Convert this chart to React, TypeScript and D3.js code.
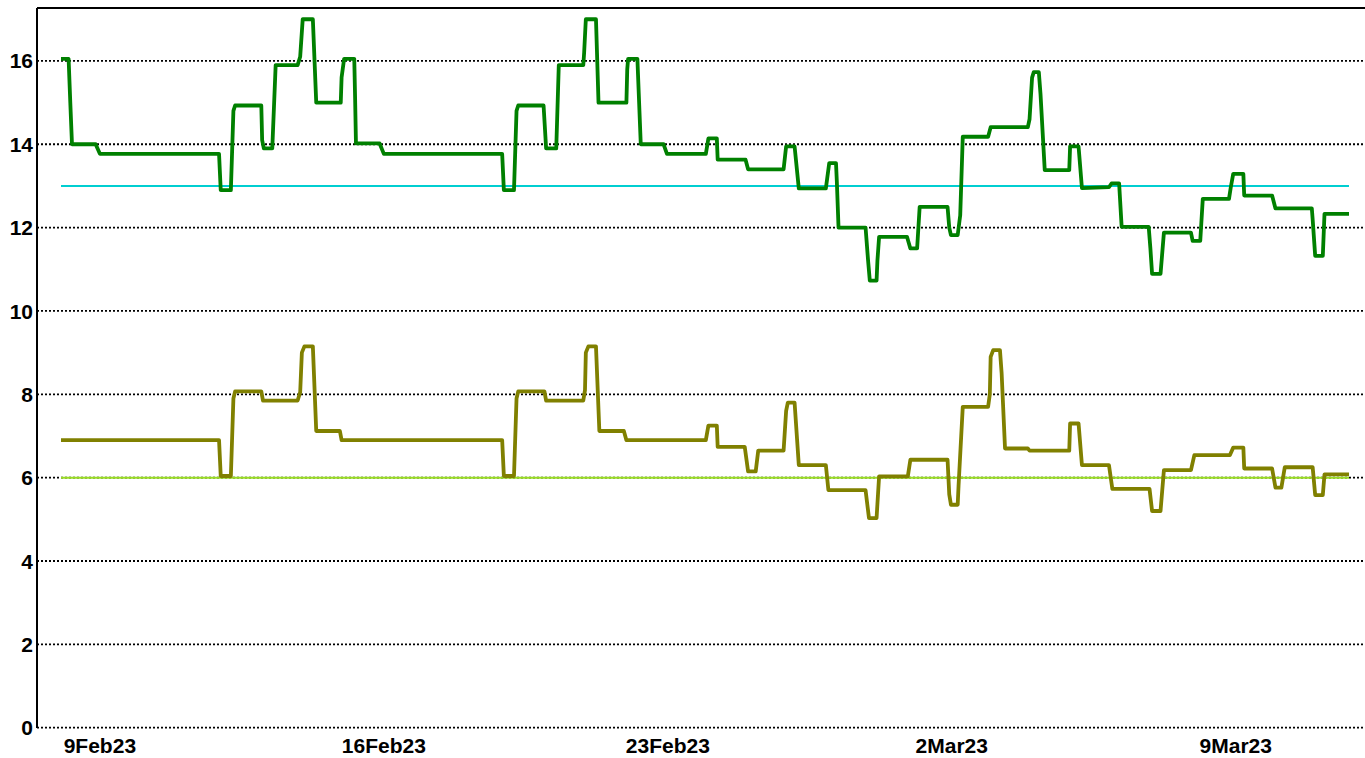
import React from "react";
import * as d3 from "d3";

const width = 1365;
const height = 758;

// readings taken off the chart, hourly-ish step data
const upperSeries: [string, number][] = [
  ["2023-02-08 01:00", 16.05], ["2023-02-08 05:30", 16.05], ["2023-02-08 06:30", 15.0], ["2023-02-08 07:30", 14.0],
  ["2023-02-08 21:30", 14.0], ["2023-02-09 00:00", 13.77], ["2023-02-11 22:30", 13.77], ["2023-02-11 23:30", 12.9],
  ["2023-02-12 05:30", 12.9], ["2023-02-12 07:00", 14.8], ["2023-02-12 08:00", 14.93], ["2023-02-12 23:30", 14.93],
  ["2023-02-13 00:00", 14.1], ["2023-02-13 01:00", 13.9], ["2023-02-13 06:00", 13.9], ["2023-02-13 08:00", 15.9],
  ["2023-02-13 21:00", 15.9], ["2023-02-13 22:30", 16.1], ["2023-02-14 00:00", 17.0], ["2023-02-14 06:00", 17.0],
  ["2023-02-14 08:00", 15.0], ["2023-02-14 22:30", 15.0], ["2023-02-14 23:00", 15.6], ["2023-02-15 00:30", 16.05],
  ["2023-02-15 06:30", 16.05], ["2023-02-15 07:00", 15.1], ["2023-02-15 07:30", 14.02], ["2023-02-15 21:30", 14.02],
  ["2023-02-16 00:00", 13.77], ["2023-02-18 22:00", 13.77], ["2023-02-18 23:00", 12.9], ["2023-02-19 05:00", 12.9],
  ["2023-02-19 06:30", 14.8], ["2023-02-19 07:30", 14.93], ["2023-02-19 22:30", 14.93], ["2023-02-20 00:00", 13.9],
  ["2023-02-20 06:00", 13.9], ["2023-02-20 07:30", 15.9], ["2023-02-20 22:00", 15.9], ["2023-02-20 22:30", 16.2],
  ["2023-02-20 23:30", 17.0], ["2023-02-21 05:30", 17.0], ["2023-02-21 07:00", 15.0], ["2023-02-21 23:30", 15.0],
  ["2023-02-22 00:00", 15.8], ["2023-02-22 00:30", 16.05], ["2023-02-22 06:00", 16.05], ["2023-02-22 08:00", 14.0],
  ["2023-02-22 21:30", 14.0], ["2023-02-22 23:30", 13.77], ["2023-02-23 22:30", 13.77], ["2023-02-24 00:00", 14.14],
  ["2023-02-24 05:00", 14.14], ["2023-02-24 05:30", 13.63], ["2023-02-24 22:00", 13.63], ["2023-02-24 23:30", 13.4],
  ["2023-02-25 20:30", 13.4], ["2023-02-25 22:00", 13.95], ["2023-02-26 03:00", 13.95], ["2023-02-26 05:30", 12.94],
  ["2023-02-26 21:30", 12.94], ["2023-02-26 23:30", 13.55], ["2023-02-27 03:30", 13.55], ["2023-02-27 04:00", 13.1],
  ["2023-02-27 05:00", 12.0], ["2023-02-27 21:00", 12.0], ["2023-02-27 22:30", 11.2], ["2023-02-27 23:30", 10.73],
  ["2023-02-28 03:30", 10.73], ["2023-02-28 04:00", 11.2], ["2023-02-28 05:00", 11.78], ["2023-02-28 21:30", 11.78],
  ["2023-02-28 23:30", 11.5], ["2023-03-01 03:30", 11.5], ["2023-03-01 05:00", 12.5], ["2023-03-01 21:30", 12.5],
  ["2023-03-01 22:30", 12.0], ["2023-03-01 23:30", 11.82], ["2023-03-02 03:30", 11.82], ["2023-03-02 05:00", 12.3],
  ["2023-03-02 06:30", 14.18], ["2023-03-02 21:30", 14.18], ["2023-03-02 23:00", 14.41], ["2023-03-03 21:00", 14.41],
  ["2023-03-03 22:00", 14.6], ["2023-03-03 23:30", 15.6], ["2023-03-04 00:30", 15.73], ["2023-03-04 03:30", 15.73],
  ["2023-03-04 04:30", 15.2], ["2023-03-04 07:00", 13.38], ["2023-03-04 21:30", 13.38], ["2023-03-04 22:00", 13.95],
  ["2023-03-05 03:00", 13.95], ["2023-03-05 05:00", 12.95], ["2023-03-05 21:00", 12.97], ["2023-03-05 22:30", 13.06],
  ["2023-03-06 03:00", 13.06], ["2023-03-06 04:30", 12.02], ["2023-03-06 20:30", 12.02], ["2023-03-06 21:30", 11.5],
  ["2023-03-06 22:30", 10.89], ["2023-03-07 03:30", 10.89], ["2023-03-07 05:30", 11.88], ["2023-03-07 21:30", 11.88],
  ["2023-03-07 22:30", 11.68], ["2023-03-08 03:00", 11.68], ["2023-03-08 04:30", 12.69], ["2023-03-08 20:00", 12.69],
  ["2023-03-08 21:00", 12.95], ["2023-03-08 22:30", 13.29], ["2023-03-09 04:30", 13.29], ["2023-03-09 05:00", 12.77],
  ["2023-03-09 21:30", 12.77], ["2023-03-09 23:30", 12.46], ["2023-03-10 21:00", 12.46], ["2023-03-10 21:30", 12.2],
  ["2023-03-10 23:00", 11.32], ["2023-03-11 03:30", 11.32], ["2023-03-11 04:30", 12.33], ["2023-03-11 19:00", 12.33],
];

const lowerSeries: [string, number][] = [
  ["2023-02-08 01:00", 6.9], ["2023-02-11 22:30", 6.9], ["2023-02-11 23:30", 6.04], ["2023-02-12 05:30", 6.04],
  ["2023-02-12 07:00", 7.9], ["2023-02-12 08:00", 8.07], ["2023-02-12 23:30", 8.07], ["2023-02-13 00:30", 7.85],
  ["2023-02-13 21:00", 7.85], ["2023-02-13 22:30", 8.05], ["2023-02-13 23:30", 9.0], ["2023-02-14 01:00", 9.15],
  ["2023-02-14 06:00", 9.15], ["2023-02-14 08:00", 7.12], ["2023-02-14 22:00", 7.12], ["2023-02-14 23:00", 6.9],
  ["2023-02-18 22:00", 6.9], ["2023-02-18 23:00", 6.04], ["2023-02-19 05:00", 6.04], ["2023-02-19 06:30", 7.9],
  ["2023-02-19 07:30", 8.07], ["2023-02-19 23:00", 8.07], ["2023-02-20 00:00", 7.85], ["2023-02-20 22:00", 7.85],
  ["2023-02-20 23:00", 8.1], ["2023-02-20 23:30", 9.0], ["2023-02-21 01:00", 9.15], ["2023-02-21 05:30", 9.15],
  ["2023-02-21 07:30", 7.12], ["2023-02-21 22:00", 7.12], ["2023-02-21 23:30", 6.9], ["2023-02-23 22:30", 6.9],
  ["2023-02-24 00:00", 7.25], ["2023-02-24 05:00", 7.25], ["2023-02-24 05:30", 6.74], ["2023-02-24 21:30", 6.74],
  ["2023-02-24 23:30", 6.15], ["2023-02-25 04:00", 6.15], ["2023-02-25 05:30", 6.65], ["2023-02-25 20:30", 6.65],
  ["2023-02-25 22:00", 7.6], ["2023-02-25 23:00", 7.8], ["2023-02-26 03:00", 7.8], ["2023-02-26 05:30", 6.3],
  ["2023-02-26 21:30", 6.3], ["2023-02-26 23:00", 5.7], ["2023-02-27 21:00", 5.7], ["2023-02-27 23:00", 5.03],
  ["2023-02-28 03:30", 5.03], ["2023-02-28 05:00", 6.03], ["2023-02-28 22:00", 6.03], ["2023-02-28 23:30", 6.43],
  ["2023-03-01 21:30", 6.43], ["2023-03-01 22:30", 5.6], ["2023-03-01 23:30", 5.35], ["2023-03-02 03:30", 5.35],
  ["2023-03-02 04:00", 5.8], ["2023-03-02 06:30", 7.7], ["2023-03-02 21:30", 7.7], ["2023-03-02 22:30", 8.0],
  ["2023-03-02 23:00", 8.9], ["2023-03-03 00:30", 9.06], ["2023-03-03 04:30", 9.06], ["2023-03-03 05:30", 8.5],
  ["2023-03-03 07:30", 6.7], ["2023-03-03 21:00", 6.7], ["2023-03-03 22:00", 6.65], ["2023-03-04 21:30", 6.65],
  ["2023-03-04 22:00", 7.3], ["2023-03-05 03:00", 7.3], ["2023-03-05 05:00", 6.3], ["2023-03-05 21:00", 6.3],
  ["2023-03-05 23:00", 5.73], ["2023-03-06 21:00", 5.73], ["2023-03-06 22:30", 5.2], ["2023-03-07 03:30", 5.2],
  ["2023-03-07 05:30", 6.18], ["2023-03-07 21:30", 6.18], ["2023-03-07 23:30", 6.54], ["2023-03-08 20:30", 6.54],
  ["2023-03-08 22:30", 6.72], ["2023-03-09 04:30", 6.72], ["2023-03-09 05:00", 6.22], ["2023-03-09 21:30", 6.22],
  ["2023-03-09 23:30", 5.76], ["2023-03-10 03:00", 5.76], ["2023-03-10 05:00", 6.25], ["2023-03-10 21:30", 6.25],
  ["2023-03-10 23:00", 5.58], ["2023-03-11 03:30", 5.58], ["2023-03-11 04:30", 6.08], ["2023-03-11 19:00", 6.08],
];

const upperTarget = 13;
const lowerTarget = 6;
const yTicks = [0, 2, 4, 6, 8, 10, 12, 14, 16];

const parse = d3.timeParse("%Y-%m-%d %H:%M");
const fmt = d3.timeFormat("%-d%b%y");

const App: React.FC = () => {
  const upper = upperSeries.map(([t, v]) => ({ t: parse(t) as Date, v }));
  const lower = lowerSeries.map(([t, v]) => ({ t: parse(t) as Date, v }));

  const [t0, t1] = d3.extent(upper, (d) => d.t) as [Date, Date];
  const x = d3.scaleTime().domain([t0, t1]).range([61, 1349]);
  const y = d3.scaleLinear().domain([0, 17.27]).range([727.7, 8]);

  const line = d3
    .line<{ t: Date; v: number }>()
    .x((d) => x(d.t))
    .y((d) => y(d.v));

  const xTicks = d3.timeThursday.range(t0, t1);
  const left = 37;

  return (
    <div style={{ position: "fixed", left: 0, top: 0 }}>
      <svg width={width} height={height} style={{ display: "block", fontFamily: "'Liberation Sans', Arial, sans-serif" }}>
        <rect width={width} height={height} fill="white" />
        {yTicks.map((v) => (
          <g key={v}>
            <line x1={left} x2={width} y1={y(v)} y2={y(v)} stroke="black" strokeWidth={1.8} strokeDasharray="2,2" />
            <text x={33} y={y(v)} dy="0.36em" textAnchor="end" fontSize={21} fontWeight="bold">
              {v}
            </text>
          </g>
        ))}
        <line x1={left} x2={left} y1={8} y2={728} stroke="black" strokeWidth={2} />
        <line x1={left} x2={width} y1={8} y2={8} stroke="black" strokeWidth={2} />
        {xTicks.map((d) => (
          <text key={+d} x={x(d)} y={753} textAnchor="middle" fontSize={21} fontWeight="bold">
            {fmt(d)}
          </text>
        ))}
        <line x1={x(t0)} x2={x(t1)} y1={y(upperTarget)} y2={y(upperTarget)} stroke="#00CED1" strokeWidth={2} />
        <line x1={x(t0)} x2={x(t1)} y1={y(lowerTarget)} y2={y(lowerTarget)} stroke="#99DD22" strokeWidth={2} />
        <path d={line(lower) ?? ""} fill="none" stroke="#808000" strokeWidth={3.8} strokeLinejoin="round" />
        <path d={line(upper) ?? ""} fill="none" stroke="#008000" strokeWidth={3.8} strokeLinejoin="round" />
      </svg>
    </div>
  );
};

export default App;
